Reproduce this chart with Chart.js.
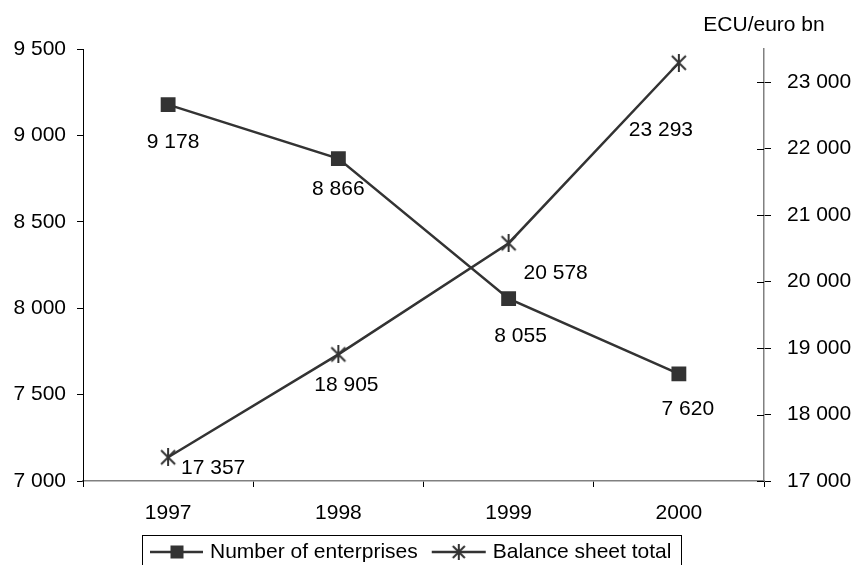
<!DOCTYPE html>
<html>
<head>
<meta charset="utf-8">
<script src="https://cdn.jsdelivr.net/npm/chart.js@4"></script>
<style>
html, body { margin: 0; padding: 0; background: #fff; }
</style>
</head>
<body>
<canvas id="myChart" width="856" height="565"></canvas>
<script>
var years = ['1997', '1998', '1999', '2000'];
var enterprises = [9178, 8866, 8055, 7620];
var balanceTotal = [17357, 18905, 20578, 23293];
var leftTicks = [7000, 7500, 8000, 8500, 9000, 9500];
var rightTicks = [17000, 18000, 19000, 20000, 21000, 22000, 23000];
var seriesNames = ['Number of enterprises', 'Balance sheet total'];
var rightTitle = 'ECU/euro bn';

// label offsets from each point (px), chosen to match the original placement
var entLabelOffset = [[5, 38], [0, 31], [12, 38], [9, 35]];
var balLabelOffset = [[45, 11], [8, 31], [47, 30], [-18, 67]];

var FONT = '"Liberation Sans", Arial, sans-serif';
var LINE = '#333333';

function fmt(v) {
    return String(v).replace(/\B(?=(\d{3})+(?!\d))/g, ' ');
}

// excel style star: X with a vertical stroke
function makeStar(size) {
    var c = document.createElement('canvas');
    c.width = size; c.height = size;
    var g = c.getContext('2d');
    g.strokeStyle = LINE;
    g.lineWidth = 2;
    var m = size / 2, d = size / 2 - 2;
    g.beginPath();
    g.moveTo(m - d, m - d); g.lineTo(m + d, m + d);
    g.moveTo(m + d, m - d); g.lineTo(m - d, m + d);
    g.moveTo(m, 0); g.lineTo(m, size);
    g.stroke();
    return c;
}
var star = makeStar(18);
var smallStar = makeStar(16);

var extras = {
    id: 'extras',
    afterDraw: function (chart) {
        var ctx = chart.ctx;
        var yr = chart.scales.yr;
        ctx.save();

        // inner half of right axis ticks
        ctx.strokeStyle = '#000';
        ctx.lineWidth = 1;
        rightTicks.forEach(function (v) {
            var py = Math.round(yr.getPixelForValue(v)) + 0.5;
            ctx.beginPath();
            ctx.moveTo(yr.left - 7, py);
            ctx.lineTo(yr.left, py);
            ctx.stroke();
        });

        // data labels
        ctx.font = '21px ' + FONT;
        ctx.fillStyle = '#000';
        ctx.textAlign = 'center';
        ctx.textBaseline = 'middle';
        [[0, enterprises, entLabelOffset], [1, balanceTotal, balLabelOffset]].forEach(function (s) {
            var meta = chart.getDatasetMeta(s[0]);
            meta.data.forEach(function (pt, i) {
                ctx.fillText(fmt(s[1][i]), pt.x + s[2][i][0], pt.y + s[2][i][1]);
            });
        });

        // right axis unit
        ctx.fillText(rightTitle, yr.left, chart.chartArea.top - 24);

        // legend box
        var top = chart.chartArea.bottom + 54;
        var cy = top + 17;
        var lx = chart.chartArea.left + 59;
        var w1 = ctx.measureText(seriesNames[0]).width;
        var w2 = ctx.measureText(seriesNames[1]).width;
        var gap = 14;
        var boxW = 8 + 53 + 7 + w1 + gap + 54 + 7 + w2 + 10;
        ctx.strokeStyle = '#000';
        ctx.strokeRect(lx + 0.5, top + 0.5, Math.round(boxW), 60);

        ctx.strokeStyle = LINE;
        ctx.lineWidth = 2.5;
        var sx = lx + 8;
        ctx.beginPath(); ctx.moveTo(sx, cy); ctx.lineTo(sx + 53, cy); ctx.stroke();
        ctx.fillStyle = LINE;
        ctx.fillRect(sx + 27 - 6.5, cy - 6.5, 13, 13);
        ctx.fillStyle = '#000';
        ctx.textAlign = 'left';
        ctx.fillText(seriesNames[0], sx + 60, cy);

        var sx2 = sx + 60 + w1 + gap;
        ctx.beginPath(); ctx.moveTo(sx2, cy); ctx.lineTo(sx2 + 54, cy); ctx.stroke();
        ctx.drawImage(smallStar, sx2 + 27 - 8, cy - 8);
        ctx.fillText(seriesNames[1], sx2 + 61, cy);

        ctx.restore();
    }
};

var config = {
    type: 'line',
    data: {
        labels: years,
        datasets: [{
            label: seriesNames[0],
            data: enterprises,
            yAxisID: 'yl',
            borderColor: LINE,
            backgroundColor: LINE,
            borderWidth: 2.5,
            pointStyle: 'rect',
            pointRadius: 10.5,
            pointHoverRadius: 10.5,
            pointBorderWidth: 0,
            tension: 0
        }, {
            label: seriesNames[1],
            data: balanceTotal,
            yAxisID: 'yr',
            borderColor: LINE,
            backgroundColor: LINE,
            borderWidth: 2.5,
            pointStyle: star,
            pointRadius: 9,
            tension: 0
        }]
    },
    options: {
        responsive: false,
        animation: false,
        layout: { padding: { top: 49, left: 0, right: 0, bottom: 0 } },
        plugins: { legend: { display: false }, tooltip: { enabled: false } },
        scales: {
            x: {
                offset: true,
                grid: { offset: true, drawOnChartArea: false, tickLength: 6, tickColor: '#000' },
                border: { color: '#808080', width: 1.5 },
                ticks: { color: '#000', font: { family: FONT, size: 21 }, padding: 14 },
                afterFit: function (s) { s.height = 84; }
            },
            yl: {
                position: 'left',
                min: 7000,
                max: 9500,
                afterBuildTicks: function (s) { s.ticks = leftTicks.map(function (v) { return { value: v }; }); },
                grid: { drawOnChartArea: false, tickLength: 6, tickColor: '#000' },
                border: { color: '#000' },
                ticks: { color: '#000', font: { family: FONT, size: 21 }, padding: 11, callback: function (v) { return fmt(v); } },
                afterFit: function (s) { s.width = 83; }
            },
            yr: {
                position: 'right',
                min: 17000,
                max: 23500,
                afterBuildTicks: function (s) { s.ticks = rightTicks.map(function (v) { return { value: v }; }); },
                grid: { drawOnChartArea: false, tickLength: 7, tickColor: '#000' },
                border: { color: '#808080', width: 1.5 },
                ticks: { color: '#000', font: { family: FONT, size: 21 }, padding: 16, callback: function (v) { return fmt(v); } },
                afterFit: function (s) { s.width = 92; }
            }
        }
    },
    plugins: [extras]
};

var myChart = new Chart(document.getElementById('myChart'), config);
</script>
</body>
</html>
